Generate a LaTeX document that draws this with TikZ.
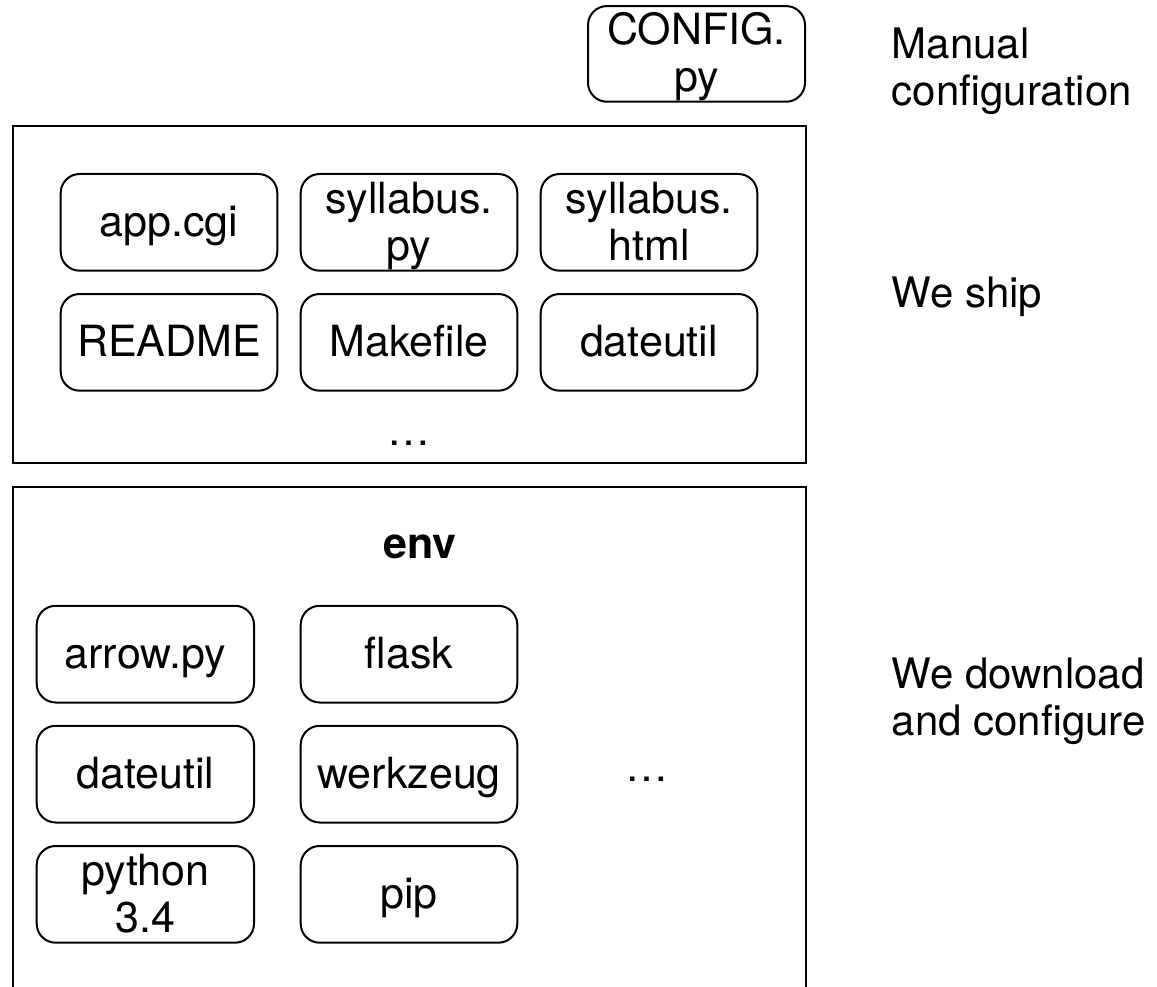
\documentclass[tikz,border=0pt]{standalone}
\usepackage{fontspec}
\setmainfont{TeX Gyre Heros}
\begin{document}
\begin{tikzpicture}[x=1pt,y=-1pt,
  filebox/.style={draw, line width=2pt, rounded corners=19pt, minimum width=216.6pt, minimum height=96.7pt, inner sep=0pt},
  envbox/.style={filebox, minimum width=217.3pt},
  group/.style={draw, line width=2pt, inner sep=0pt},
  lbl/.style={anchor=base, inner sep=0pt, font=\fontsize{43}{47}\selectfont},
  side/.style={lbl, anchor=base west, font=\fontsize{42}{46}\selectfont}]
\useasboundingbox (0,0) rectangle (1157,987);

% groups
\node[group, minimum width=793pt, minimum height=336.7pt] (ship) at (409.2,294.35) {};
\node[group, minimum width=793pt, minimum height=520pt] (env) at (409.2,746.7) {};

% config
\node[filebox, minimum width=217pt, minimum height=95.7pt] (config) at (696.5,53.9) {};
\node[lbl] (configA) at (696.5,45) {CONFIG.};
\node[lbl] (configB) at (696.5,91.6) {py};

% shipped files
\node[filebox] (app) at (169,222.35) {};
\node[lbl] (appT) at (169,236.75) {app.cgi};
\node[filebox] (sylpy) at (409,222.35) {};
\node[lbl] (sylpyA) at (409,213.45) {syllabus.};
\node[lbl] (sylpyB) at (409,260.05) {py};
\node[filebox] (sylhtml) at (649,222.35) {};
\node[lbl] (sylhtmlA) at (649,213.45) {syllabus.};
\node[lbl] (sylhtmlB) at (649,260.05) {html};
\node[filebox] (readme) at (169,342.35) {};
\node[lbl] (readmeT) at (169,356.75) {README};
\node[filebox] (make) at (409,342.35) {};
\node[lbl] (makeT) at (409,356.75) {Makefile};
\node[filebox] (dateA) at (649,342.35) {};
\node[lbl] (dateAT) at (649,356.75) {dateutil};
\node[lbl] (dotsA) at (409,445.7) {…};

% env
\node[lbl, font=\fontsize{43}{47}\selectfont\bfseries] (envT) at (420,558.3) {env};
\node[envbox] (arrow) at (145.35,654.15) {};
\node[lbl] (arrowT) at (145.35,668.55) {arrow.py};
\node[filebox] (flask) at (409,654.15) {};
\node[lbl] (flaskT) at (409,668.55) {flask};
\node[envbox] (dateB) at (145.35,774.15) {};
\node[lbl] (dateBT) at (145.35,788.55) {dateutil};
\node[filebox] (werk) at (409,774.15) {};
\node[lbl] (werkT) at (409,788.55) {werkzeug};
\node[envbox] (py) at (145.35,894.35) {};
\node[lbl] (pyA) at (145.35,885.45) {python};
\node[lbl] (pyB) at (145.35,932.05) {3.4};
\node[filebox] (pip) at (409,894.35) {};
\node[lbl] (pipT) at (409,908.75) {pip};
\node[lbl] (dotsB) at (647,781) {…};

% side notes
\node[side] (manA) at (891.5,58.9) {Manual};
\node[side] (manB) at (891.5,105.5) {configuration};
\node[side] (shipT) at (891.5,307) {We ship};
\node[side] (dlA) at (891.5,688.9) {We download};
\node[side] (dlB) at (891.5,735.5) {and configure};
\end{tikzpicture}
\end{document}
